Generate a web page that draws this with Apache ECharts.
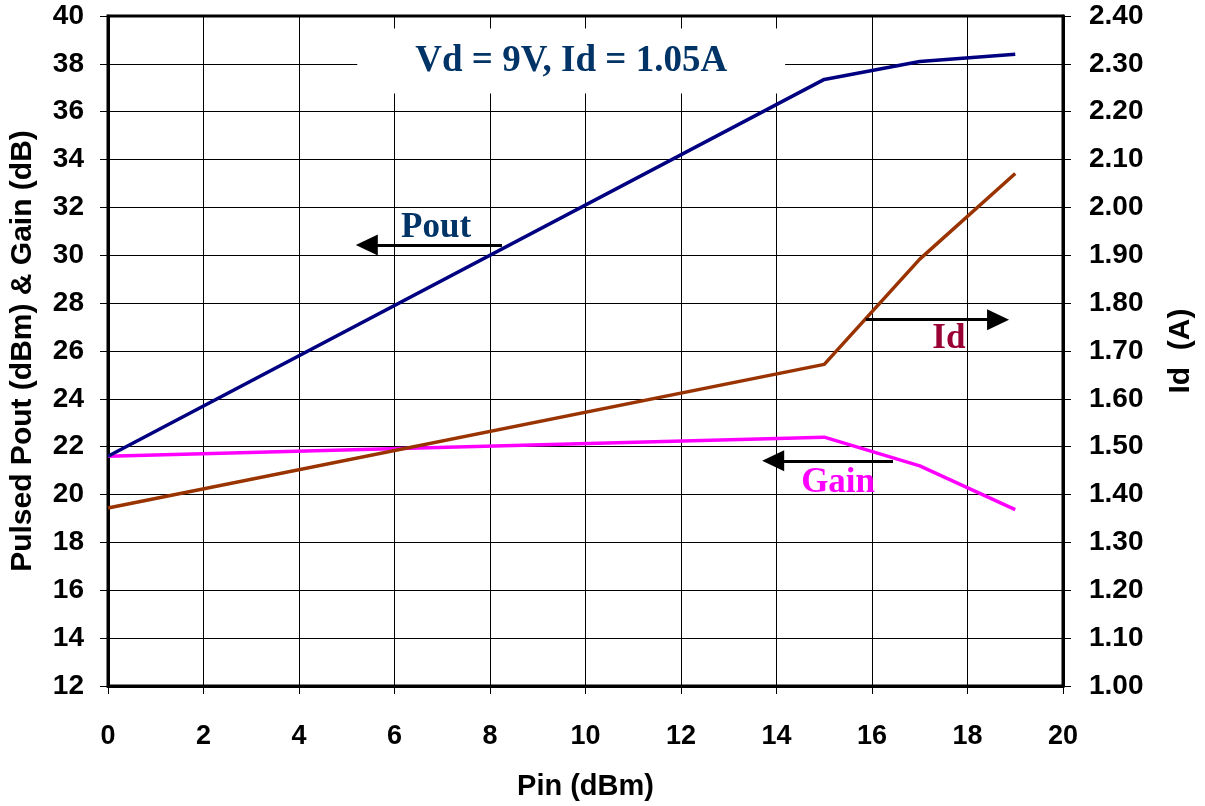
<!DOCTYPE html>
<html><head><meta charset="utf-8">
<script src="https://cdn.jsdelivr.net/npm/echarts@6/dist/echarts.min.js"></script>
<style>html,body{margin:0;padding:0;background:#fff}#c{width:1205px;height:806px}</style>
</head><body><div id="c"></div>
<script>
var xTicks = [0,2,4,6,8,10,12,14,16,18,20];
var leftTicks = [12,14,16,18,20,22,24,26,28,30,32,34,36,38,40];
var rightTicks = [1.00,1.10,1.20,1.30,1.40,1.50,1.60,1.70,1.80,1.90,2.00,2.10,2.20,2.30,2.40];
var pin = [0, 15, 17, 19];
var pout = [21.6, 37.35, 38.1, 38.4];
var gain = [21.6, 22.4, 21.2, 19.37];
var idA = [1.372, 1.672, 1.892, 2.071];

function pairs(xs, ys){ return xs.map(function(x,i){return [x, ys[i]];}); }

var sans = 'Liberation Sans, Arial, sans-serif';
var serif = 'Liberation Serif, Times New Roman, serif';

function txt(coord, text, color, size, extra){
  var lab = {show:true, position:'inside', formatter:text, color:color,
    fontFamily:serif, fontWeight:'bold', fontSize:size};
  if (extra) for (var k in extra) lab[k]=extra[k];
  return {coord:coord, symbol:'rect', symbolSize:1, itemStyle:{color:'rgba(0,0,0,0)'}, label:lab};
}
function arrow(from, to){
  return [{coord:from, symbol:'none'}, {coord:to, symbol:'triangle', symbolSize:[21,22]}];
}

var chart = echarts.init(document.getElementById('c'));
chart.setOption({
  animation:false,
  backgroundColor:'#fff',
  grid:{left:108, right:142, top:16, bottom:118, show:true, borderColor:'#000', borderWidth:3, backgroundColor:'transparent'},
  xAxis:{type:'value', min:xTicks[0], max:xTicks[xTicks.length-1], interval:2,
    name:'Pin (dBm)', nameLocation:'middle', nameGap:86,
    nameTextStyle:{fontFamily:sans, fontWeight:'bold', fontSize:29, color:'#000'},
    axisLine:{lineStyle:{color:'#000', width:3}},
    axisTick:{show:true, length:8, lineStyle:{color:'#000', width:1}},
    axisLabel:{margin:37, fontFamily:sans, fontWeight:'bold', fontSize:27, color:'#000'},
    splitLine:{show:true, lineStyle:{color:'#000', width:1}}},
  yAxis:[
    {type:'value', min:leftTicks[0], max:leftTicks[leftTicks.length-1], interval:2, position:'left',
     name:'Pulsed Pout (dBm) & Gain (dB)', nameLocation:'middle', nameGap:70,
     nameTextStyle:{fontFamily:sans, fontWeight:'bold', fontSize:30, color:'#000'},
     axisLine:{show:true, lineStyle:{color:'#000', width:3}},
     axisTick:{show:true, length:8, lineStyle:{color:'#000', width:1}},
     axisLabel:{margin:24, fontFamily:sans, fontWeight:'bold', fontSize:28, color:'#000'},
     splitLine:{show:true, lineStyle:{color:'#000', width:1}}},
    {type:'value', min:rightTicks[0], max:rightTicks[rightTicks.length-1], interval:0.1, position:'right',
     name:'Id  (A)', nameLocation:'middle', nameGap:103,
     nameTextStyle:{fontFamily:sans, fontWeight:'bold', fontSize:30, color:'#000'},
     axisLine:{show:true, lineStyle:{color:'#000', width:3}},
     axisTick:{show:true, length:8, lineStyle:{color:'#000', width:1}},
     axisLabel:{margin:26, fontFamily:sans, fontWeight:'bold', fontSize:28, color:'#000',
       formatter:function(v){return v.toFixed(2);}},
     splitLine:{show:false}}
  ],
  series:[
    {name:'Pout', type:'line', yAxisIndex:0, data:pairs(pin,pout), symbol:'none',
     lineStyle:{color:'#000080', width:3.5}, z:3,
     markLine:{silent:true, symbol:['none','triangle'], label:{show:false},
       lineStyle:{color:'#000', width:3, type:'solid'}, emphasis:{disabled:true},
       data:[arrow([8.25,30.43],[5.42,30.43]), arrow([15.87,27.31],[18.64,27.31]), arrow([16.44,21.41],[13.93,21.41])]},
     markPoint:{silent:true, data:[
       txt([9.70,38.12], 'Vd = 9V, Id = 1.05A', '#003366', 37, {backgroundColor:'#fff', padding:[14,58]}),
       txt([6.87,31.15], 'Pout', '#003366', 35),
       txt([17.61,26.49], 'Id', '#990033', 35),
       txt([15.29,20.50], 'Gain', '#FF00FF', 35)
     ]}},
    {name:'Gain', type:'line', yAxisIndex:0, data:pairs(pin,gain), symbol:'none',
     lineStyle:{color:'#FF00FF', width:3.5}, z:2},
    {name:'Id', type:'line', yAxisIndex:1, data:pairs(pin,idA), symbol:'none',
     lineStyle:{color:'#993300', width:3.5}, z:2}
  ]
});
</script></body></html>
